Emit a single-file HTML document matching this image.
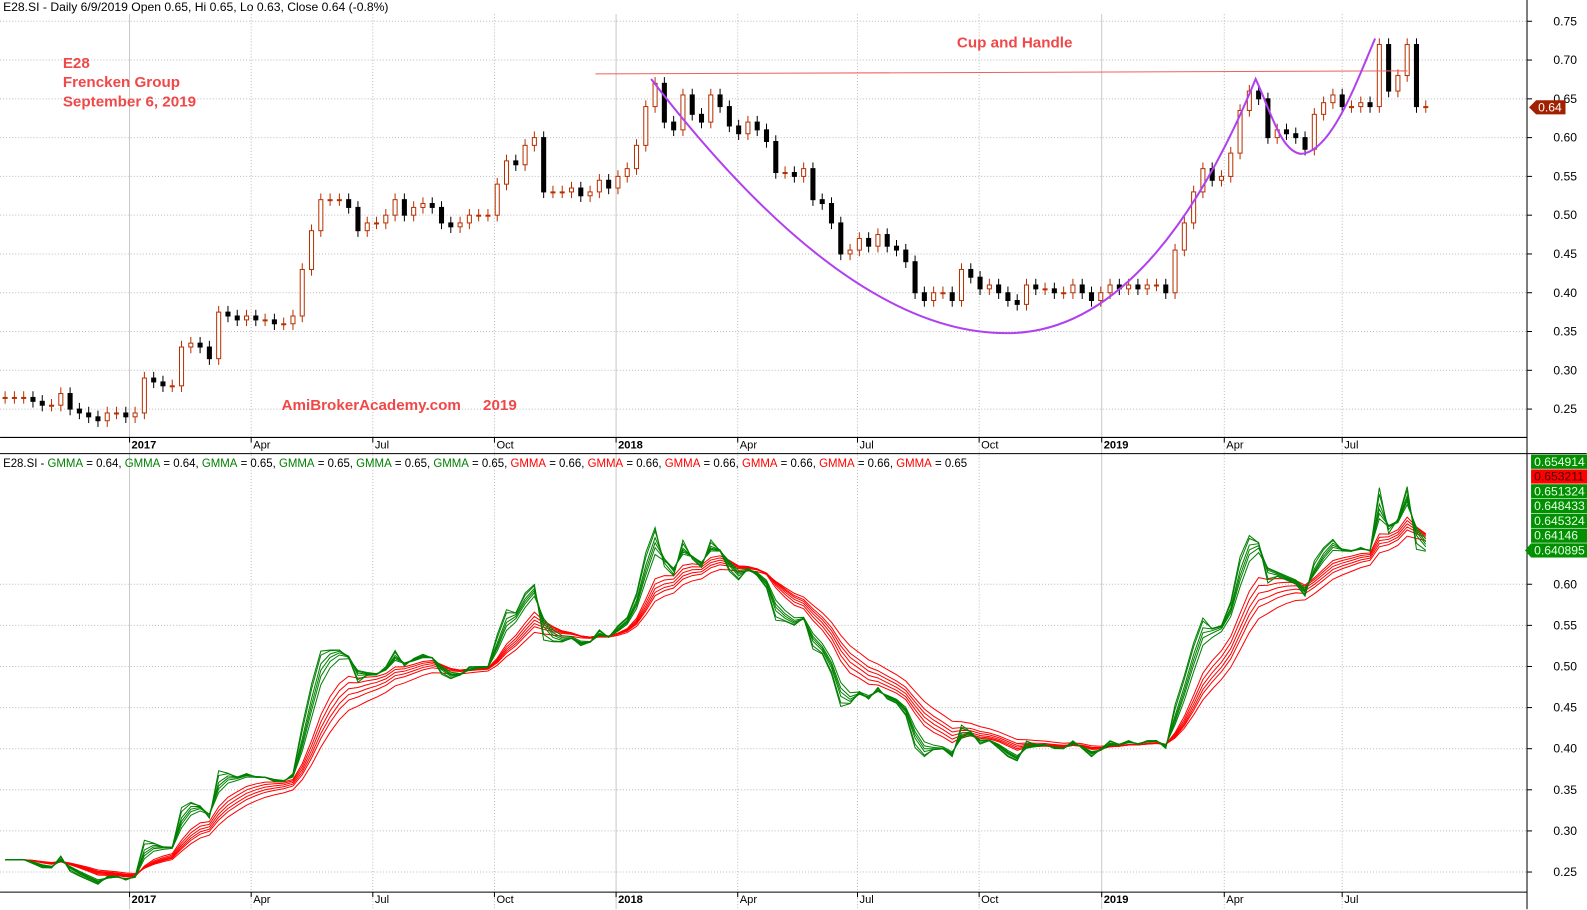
<!DOCTYPE html>
<html><head><meta charset="utf-8">
<style>
html,body{margin:0;padding:0;background:#fff;overflow:hidden}
svg{display:block;font-family:"Liberation Sans",Arial,sans-serif}
</style></head>
<body>
<svg id="chart" width="1587" height="910" viewBox="0 0 1567.2 898.7" xmlns="http://www.w3.org/2000/svg">
<g id="grid"></g>
<g id="topPanel"></g>
<g id="botPanel"></g>
<g id="axes"></g>
</svg>
<script>
// weekly closes, from late Sep 2016 to Sep 6 2019
const closes = [0.265,0.265,0.265,0.26,0.255,0.255,0.27,0.25,0.245,0.24,0.235,0.245,0.245,0.24,0.245,
0.29,0.285,0.28,0.28,0.33,0.335,0.33,0.315,0.375,0.37,0.365,0.37,0.365,0.365,0.36,0.36,0.37,
0.43,0.48,0.52,0.52,0.52,0.51,0.48,0.49,0.49,0.50,0.52,0.50,0.51,0.515,0.51,0.49,0.485,0.49,0.50,0.50,0.50,
0.54,0.57,0.565,0.59,0.60,0.53,0.53,0.53,0.535,0.525,0.53,0.545,0.535,0.55,0.56,0.59,0.64,0.67,0.62,0.61,
0.655,0.63,0.62,0.655,0.64,0.615,0.605,0.62,0.61,0.595,0.555,0.555,0.55,0.56,0.52,0.515,0.49,0.45,0.455,
0.47,0.46,0.475,0.46,0.455,0.44,0.40,0.39,0.40,0.40,0.39,0.43,0.42,0.405,0.41,0.40,0.39,0.385,0.41,0.405,
0.405,0.40,0.40,0.41,0.40,0.39,0.40,0.41,0.405,0.41,0.405,0.41,0.41,0.40,0.455,0.49,0.53,0.56,0.545,0.55,
0.58,0.635,0.66,0.65,0.60,0.61,0.605,0.60,0.585,0.63,0.645,0.655,0.64,0.64,0.645,0.64,0.72,0.66,0.68,0.72,0.64,0.64];
const priceTicks = [0.75,0.70,0.65,0.60,0.55,0.50,0.45,0.40,0.35,0.30,0.25];
const gmmaTicks = [0.60,0.55,0.50,0.45,0.40,0.35,0.30,0.25];
const dateLabels = ["2017","Apr","Jul","Oct","2018","Apr","Jul","Oct","2019","Apr","Jul"];
const dateWeeks = [13.4,26.5,39.6,52.7,65.8,78.9,91.8,104.9,118.1,131.3,144.0];
const shortPeriods = [3,5,8,10,12,15];
const longPeriods = [30,35,40,45,50,60];
const gmmaValues = ["0.64","0.64","0.65","0.65","0.65","0.65","0.66","0.66","0.66","0.66","0.66","0.65"];
const rightLabels = ["0.654914","0.653211","0.651324","0.648433","0.645324","0.64146","0.640895"];

const NS="http://www.w3.org/2000/svg";
const xOf = i => 5 + i*9.17;
const yTop = v => 21 + (0.75-v)/0.05*38.3;
const yBot = v => 577 + (0.60-v)/0.05*40.6;
function mk(tag, attrs, parent){const e=document.createElementNS(NS,tag);for(const k in attrs)e.setAttribute(k,attrs[k]);parent.appendChild(e);return e;}
const grid=document.getElementById('grid'), topG=document.getElementById('topPanel'), botG=document.getElementById('botPanel'), axes=document.getElementById('axes');
const AX=1508;

priceTicks.forEach(v=>{const l=mk('line',{x1:0,x2:AX,y1:yTop(v),y2:yTop(v),stroke:'#bbb','stroke-dasharray':'1,2'},grid);


const t=mk('text',{x:1534,y:yTop(v)+4,'font-size':12,fill:'#000'},axes);t.textContent=v.toFixed(2);


mk('line',{x1:AX,x2:AX+5,y1:yTop(v),y2:yTop(v),stroke:'#000'},axes);});
gmmaTicks.forEach(v=>{const l=mk('line',{x1:0,x2:AX,y1:yBot(v),y2:yBot(v),stroke:'#bbb','stroke-dasharray':'1,2'},grid);


const t=mk('text',{x:1534,y:yBot(v)+4,'font-size':12,fill:'#000'},axes);t.textContent=v.toFixed(2);


mk('line',{x1:AX,x2:AX+5,y1:yBot(v),y2:yBot(v),stroke:'#000'},axes);});
dateLabels.forEach((lab,k)=>{const x=xOf(dateWeeks[k]);const yr=/^\d+$/.test(lab);
const l=mk('line',{x1:x,x2:x,y1:14,y2:898,stroke:yr?'#c8c8c8':'#bbb','stroke-dasharray':yr?'none':'1,2'},grid);


[432,881].forEach(ay=>{mk('line',{x1:x,x2:x,y1:ay,y2:ay+5,stroke:'#000'},axes);
const t=mk('text',{x:x+2,y:ay+11,'font-size':11,'font-weight':yr?'bold':'normal',fill:'#000'},axes);t.textContent=lab;

});});

mk('line',{x1:AX,x2:AX,y1:0,y2:898,stroke:'#000'},axes);
mk('line',{x1:0,x2:AX,y1:432,y2:432,stroke:'#000'},axes);
mk('line',{x1:0,x2:1567,y1:448,y2:448,stroke:'#000'},axes);
mk('line',{x1:0,x2:AX,y1:881,y2:881,stroke:'#000'},axes);

closes.forEach((c,i)=>{const o=i?closes[i-1]:c;const hi=Math.max(o,c)+0.008,lo=Math.min(o,c)-0.008;const x=xOf(i);const up=c>=o;
const g=mk('g',{},topG);


mk('line',{x1:x,x2:x,y1:yTop(hi),y2:yTop(lo),stroke:up?'#b83000':'#000'},g);
const y1=yTop(Math.max(o,c)),y2=yTop(Math.min(o,c));
mk('rect',{x:x-2,y:y1,width:4,height:Math.max(1,y2-y1),fill:up?'#fff':'#000',stroke:up?'#b83000':'#000','stroke-width':1},g);});

const res=mk('line',{x1:588,x2:1390,y1:73,y2:70,stroke:'#f06060','stroke-width':1},topG);


const cup=mk('path',{d:'M643,78 C760,230 880,330 995,329 C1110,329 1190,200 1240,78 C1255,110 1265,150 1285,152 C1315,150 1340,80 1358,38',fill:'none',stroke:'#b040f0','stroke-width':2},topG);


function txt(s,x,y,attrs,name,parent){const t=mk('text',Object.assign({x:x,y:y},attrs),parent||topG);t.textContent=s;

return t;}
const red={fill:'#f04848','font-size':15,'font-weight':'bold'};
txt('E28',62,67,red,'ticker-annotation');
txt('Frencken Group',62,86,red,'company-annotation');
txt('September 6, 2019',62,105,red,'date-annotation');
txt('Cup and Handle',945,47,red,'pattern-title');
txt('AmiBrokerAcademy.com',278,405,red,'watermark');
txt('2019',477,405,red,'watermark-year');
txt('E28.SI - Daily 6/9/2019 Open 0.65, Hi 0.65, Lo 0.63, Close 0.64 (-0.8%)',3,11,{'font-size':12,fill:'#000'},'price-header');
const lp=mk('g',{},axes);


mk('path',{d:'M1510,106 L1517,99 L1546,99 L1546,113 L1517,113 Z',fill:'#a02000'},lp);
txt('0.64',1519,110,{'font-size':12,fill:'#fff'},'last-price-value',lp);

function ema(p){const ad=2/(p+1);const a=1-Math.pow(1-ad,5);let e=closes[0];return closes.map(c=>(e=e+a*(c-e)));}
const defs=mk('defs',{},botG);
const clip=mk('clipPath',{id:'bc'},defs);mk('rect',{x:0,y:449,width:AX,height:432},clip);
const lines=mk('g',{'clip-path':'url(#bc)'},botG);
[[longPeriods,'#ff0000','gmma-long-line'],[shortPeriods,'#008000','gmma-short-line']].forEach(([ps,col,nm])=>{
ps.forEach(p=>{const e=ema(p);const pl=mk('polyline',{points:e.map((v,i)=>xOf(i)+','+yBot(v)).join(' '),fill:'none',stroke:col,'stroke-width':1},lines);

});});
const h=txt('',3,461,{'font-size':12,fill:'#000',textLength:952,lengthAdjust:'spacingAndGlyphs'},'gmma-header',botG);
let s=mk('tspan',{},h);s.textContent='E28.SI - ';
gmmaValues.forEach((v,k)=>{const a=mk('tspan',{fill:k<6?'#008000':'#ff0000'},h);a.textContent='GMMA';const b=mk('tspan',{},h);b.textContent=' = '+v+(k<11?', ':'');});
rightLabels.forEach((v,k)=>{const y=449+k*14.6;const g=mk('g',{},axes);


mk('rect',{x:1512,y:y,width:56,height:14,fill:k===1?'#ff0000':'#009000'},g);
if(k===6)mk('path',{d:`M1506,${y+7} L1512,${y} L1512,${y+14} Z`,fill:'#009000'},g);
txt(v,1515,y+11,{'font-size':12,fill:k===1?'#400':'#e8ffe8'},'gmma-value-text',g);});
</script>
</body></html>
